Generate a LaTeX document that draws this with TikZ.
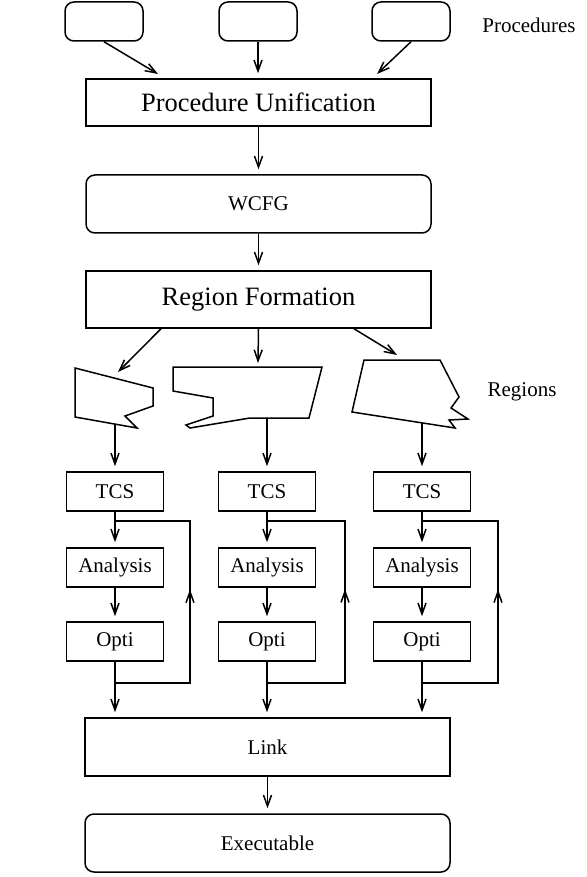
\documentclass[tikz,border=0pt]{standalone}
\usepackage{fontspec}
\setmainfont{Liberation Serif}
\usetikzlibrary{arrows.meta,decorations.markings}

\begin{document}
\begin{tikzpicture}[x=1pt,y=-1pt,line width=1.5pt,
  tip/.tip={Straight Barb[length=11pt,width=8pt]},
  arr/.style={-tip, shorten >=5pt},
  arrd/.style={-tip},
  small/.style={font=\fontsize{21}{24}\selectfont},
  big/.style={font=\fontsize{26.5}{30}\selectfont},
  rbox/.style={draw, rounded corners=9pt, inner sep=0pt},
  sbox/.style={draw, inner sep=0pt},
  stepbox/.style={sbox, small, minimum width=97pt, minimum height=39pt},
  loopline/.style={decoration={markings,
      mark=at position 0.54 with {\arrow{tip}}}, postaction=decorate},
]
\useasboundingbox (0,0) rectangle (586,877);

% input procedures
\node[rbox, minimum width=78pt, minimum height=39pt] (p1) at (104,21.5) {};
\node[rbox, minimum width=78pt, minimum height=39pt] (p2) at (258,21.5) {};
\node[rbox, minimum width=78pt, minimum height=39pt] (p3) at (411,21.5) {};
\node[small] (proclbl) at (529,25) {Procedures};

% main pipeline
\node[sbox, big, minimum width=345pt, minimum height=47pt] (pu) at (258.5,102.5) {Procedure Unification};
\node[rbox, small, minimum width=345pt, minimum height=58pt] (wcfg) at (258.5,204) {WCFG};
\node[sbox, big, minimum width=345pt, minimum height=57pt] (rf) at (258.5,299.5) {Region Formation};

\coordinate (pu1) at (158,74);
\coordinate (pu3) at (377,74);
\draw[arrd] (p1.south) -- (pu1);
\draw[arr] (p2.south) -- (p2.south |- pu.north);
\draw[arrd] (p3.south) -- (pu3);
\draw[arr] (pu) -- (wcfg);
\draw[arr] (wcfg) -- (rf);

% regions
\draw[line join=miter] (75,368) -- (153,388) -- (153,406) -- (125,416) -- (137,428) -- (75,417) -- cycle;
\draw[line join=miter] (173,367) -- (322,367) -- (309,418) -- (250,418) -- (190,428) -- (186,425)
  -- (213,416) -- (213,398) -- (173,391) -- cycle;
\draw[line join=miter] (364,360) -- (440,360) -- (459,397) -- (451,408) -- (468,419) -- (449,420)
  -- (455,428) -- (352,412) -- cycle;
\node[small] (reglbl) at (522,392) {Regions};

\coordinate (rta) at (118,372);
\coordinate (rtb) at (258,363);
\coordinate (rtc) at (397,355);
\draw[arrd] (rf.south -| 161,0) -- (rta);
\draw[arrd] (rf.south) -- (rtb);
\draw[arrd] (rf.south -| 354,0) -- (rtc);

\coordinate (rsa) at (115,424);
\coordinate (rsb) at (267,418);
\coordinate (rsc) at (422,423);

% link and executable
\node[sbox, small, minimum width=365pt, minimum height=58pt] (link) at (267.5,747) {Link};
\node[rbox, small, minimum width=365pt, minimum height=58pt] (exe) at (267.5,843) {Executable};
\draw[arr] (link) -- (exe);

% one optimisation column per region
\foreach \n/\x/\lx in {a/115/190, b/267/345, c/422/498} {
  \node[stepbox] (tcs\n) at (\x,491.5) {TCS};
  \node[stepbox] (ana\n) at (\x,567.5) {Analysis};
  \node[stepbox] (opt\n) at (\x,641.5) {Opti};
  \coordinate (ja\n) at (\x,521);
  \coordinate (jb\n) at (\x,683);
  \coordinate (ka\n) at (\lx,521);
  \coordinate (kb\n) at (\lx,683);
  \draw[arr] (rs\n) -- (tcs\n);
  \draw[arr] (tcs\n) -- (ana\n);
  \draw[arr] (ana\n) -- (opt\n);
  \draw[arr] (opt\n.south) -- (opt\n.south |- link.north);
  \draw[loopline] (jb\n) -- (kb\n) -- (ka\n) -- (ja\n);
}
\end{tikzpicture}
\end{document}
